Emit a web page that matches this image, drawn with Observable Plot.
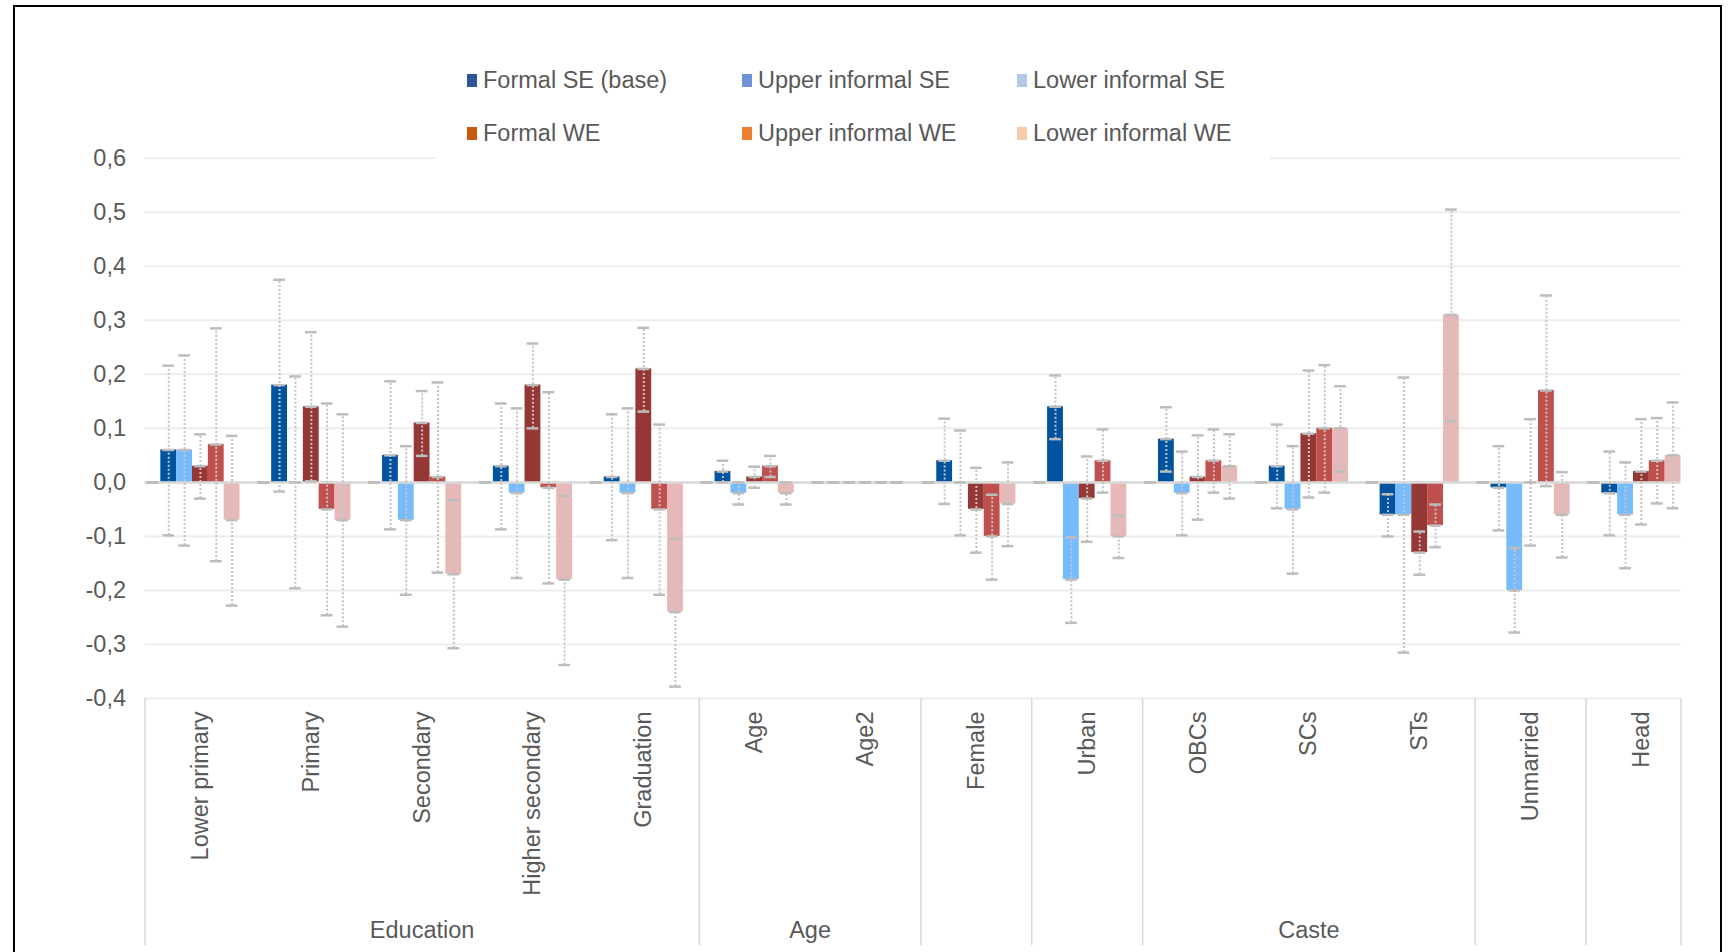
<!DOCTYPE html>
<html>
<head>
<meta charset="utf-8">
<script src="https://cdn.jsdelivr.net/npm/d3@7"></script>
<script src="https://cdn.jsdelivr.net/npm/@observablehq/plot@0.6"></script>
<style>
html, body { margin: 0; padding: 0; background: #fff; overflow: hidden; }
#wrap { position: relative; width: 1729px; height: 952px; font-family: "Liberation Sans", Arial, sans-serif; }
#chart { position: absolute; left: 0; top: 0; }
#legend { position: absolute; left: 436px; top: 40px; width: 834px; height: 121px; background: #fff; }
.item { position: absolute; height: 30px; display: flex; align-items: center; font-size: 23.5px; color: #595959; white-space: nowrap; }
.sw { width: 10px; height: 13px; margin-right: 6px; flex: none; }
#frame { position: absolute; left: 13px; top: 5px; width: 1705px; height: 1000px; border: 2px solid #000; pointer-events: none; }
</style>
</head>
<body>
<div id="wrap">
  <div id="chart"></div>
  <div id="legend"></div>
  <div id="frame"></div>
</div>
<script>
// ---------- data ----------
const categories = ["Lower primary", "Primary", "Secondary", "Higher secondary", "Graduation",
  "Age", "Age2", "Female", "Urban", "OBCs", "SCs", "STs", "Unmarried", "Head"];
const groupLabels = ["Education", "Age", "", "", "Caste", "", ""];
const groupSizes = [5, 2, 1, 1, 3, 1, 1];

const seriesNames = ["Formal SE (base)", "Upper informal SE", "Lower informal SE",
  "Formal WE", "Upper informal WE", "Lower informal WE"];
const legendColors = ["#2F5597", "#6F93D6", "#B4C7E7", "#C55A11", "#ED7D31", "#F8CBAD"];
const barColors = ["#2F5597", "#00539F", "#75BBFD", "#953735", "#C0504D", "#E6B9B8"];

const yTicks = [-0.4, -0.3, -0.2, -0.1, 0, 0.1, 0.2, 0.3, 0.4, 0.5, 0.6];

// Formal SE (base)
const formalSE    = [0, 0, 0, 0, 0, 0, 0, 0, 0, 0, 0, 0, 0, 0];
const formalSELo  = [0, 0, 0, 0, 0, 0, 0, 0, 0, 0, 0, 0, 0, 0];
const formalSEHi  = [0, 0, 0, 0, 0, 0, 0, 0, 0, 0, 0, 0, 0, 0];
// Upper informal SE
const upperSE     = [0.06, 0.18, 0.05, 0.03, 0.01, 0.02, 0, 0.04, 0.14, 0.08, 0.03, -0.06, -0.01, -0.02];
const upperSELo   = [-0.098, -0.017, -0.087, -0.087, -0.107, 0, 0, -0.04, 0.08, 0.02, -0.048, -0.1, -0.089, -0.098];
const upperSEHi   = [0.216, 0.375, 0.187, 0.146, 0.126, 0.04, 0, 0.118, 0.198, 0.139, 0.107, -0.022, 0.067, 0.057];
// Lower informal SE
const lowerSE     = [0.06, 0, -0.07, -0.02, -0.02, -0.02, 0, 0, -0.18, -0.02, -0.05, -0.06, -0.2, -0.06];
const lowerSELo   = [-0.117, -0.196, -0.208, -0.177, -0.177, -0.041, 0, -0.098, -0.26, -0.098, -0.169, -0.315, -0.278, -0.159];
const lowerSEHi   = [0.235, 0.196, 0.067, 0.137, 0.137, 0, 0, 0.096, -0.102, 0.057, 0.067, 0.194, -0.122, 0.037];
// Formal WE
const formalWE    = [0.03, 0.14, 0.11, 0.18, 0.21, 0.01, 0, -0.05, -0.03, 0.01, 0.09, -0.13, 0, 0.02];
const formalWELo  = [-0.03, 0.002, 0.049, 0.1, 0.131, -0.01, 0, -0.13, -0.11, -0.069, -0.028, -0.171, -0.117, -0.078];
const formalWEHi  = [0.089, 0.278, 0.169, 0.257, 0.286, 0.029, 0, 0.027, 0.048, 0.087, 0.207, -0.091, 0.117, 0.117];
// Upper informal WE
const upperWE     = [0.07, -0.05, 0.01, -0.01, -0.05, 0.03, 0, -0.1, 0.04, 0.04, 0.1, -0.08, 0.17, 0.04];
const upperWELo   = [-0.146, -0.246, -0.167, -0.187, -0.208, 0.01, 0, -0.18, -0.019, -0.019, -0.019, -0.12, -0.007, -0.039];
const upperWEHi   = [0.285, 0.146, 0.185, 0.167, 0.107, 0.049, 0, -0.023, 0.098, 0.098, 0.217, -0.041, 0.346, 0.119];
// Lower informal WE
const lowerWE     = [-0.07, -0.07, -0.17, -0.18, -0.24, -0.02, 0, -0.04, -0.1, 0.03, 0.1, 0.31, -0.06, 0.05];
const lowerWELo   = [-0.228, -0.267, -0.307, -0.338, -0.378, -0.041, 0, -0.118, -0.14, -0.03, 0.02, 0.113, -0.139, -0.048];
const lowerWEHi   = [0.086, 0.126, -0.033, -0.025, -0.104, 0, 0, 0.037, -0.061, 0.089, 0.178, 0.505, 0.019, 0.148];

const seriesValues = [formalSE, upperSE, lowerSE, formalWE, upperWE, lowerWE];
const seriesLo = [formalSELo, upperSELo, lowerSELo, formalWELo, upperWELo, lowerWELo];
const seriesHi = [formalSEHi, upperSEHi, lowerSEHi, formalWEHi, upperWEHi, lowerWEHi];

// ---------- layout helpers ----------
const slotsPerCategory = 7;             // six series + one empty spacer slot
const xMax = categories.length * slotsPerCategory - 1; // plot edge clips the last spacer
const capHalf = 0.37;                    // half cap width in slot units

const rows = [];
seriesNames.forEach((s, si) => {
  categories.forEach((c, ci) => {
    rows.push({category: c, series: s, slot: ci * slotsPerCategory + si,
      value: seriesValues[si][ci], lo: seriesLo[si][ci], hi: seriesHi[si][ci]});
  });
});
const caps = rows.flatMap(d => [d.lo, d.value, d.hi].map(y => ({slot: d.slot, y})));

const boundaries = [];
const groupItems = [];
let start = 0;
boundaries.push(0);
groupSizes.forEach((n, gi) => {
  const end = start + n;
  boundaries.push(Math.min(end * slotsPerCategory, xMax));
  if (groupLabels[gi]) groupItems.push({label: groupLabels[gi], mid: (start + end) / 2 * slotsPerCategory});
  start = end;
});

const fmt = d => d.toFixed(1).replace(".", ",");

const chart = Plot.plot({
  width: 1729,
  height: 952,
  marginLeft: 144.5,
  marginRight: 48.5,
  marginTop: 157.7,
  marginBottom: 254,
  x: {domain: [0, xMax], axis: null},
  y: {domain: [-0.4, 0.6], axis: null},
  color: {domain: seriesNames, range: barColors},
  style: {fontFamily: "'Liberation Sans', Arial, sans-serif", fontSize: "23.5px", color: "#595959", background: "transparent", overflow: "visible"},
  marks: [
    Plot.ruleY(yTicks, {stroke: "#EDEDED", strokeWidth: 2}),
    Plot.rectY(rows.filter(d => d.value !== 0), {x1: "slot", x2: d => d.slot + 1, y: "value", fill: "series"}),
    Plot.ruleY([0], {stroke: "#D9D9D9", strokeWidth: 2.5}),
    Plot.ruleX(rows.filter(d => d.hi !== d.lo), {x: d => d.slot + 0.5, y1: "lo", y2: "hi",
      stroke: "#C4C4C4", strokeWidth: 2, strokeDasharray: "2 2"}),
    Plot.ruleY(caps, {y: "y", x1: d => d.slot + 0.5 - capHalf, x2: d => d.slot + 0.5 + capHalf,
      stroke: "#BDBDBD", strokeWidth: 2.5}),
    Plot.text(yTicks, {x: () => 0, y: d => d, text: fmt, textAnchor: "end", dx: -19, fill: "#595959"}),
    Plot.text(categories, {x: (d, i) => i * slotsPerCategory + 3.5, y: () => -0.4, rotate: -90,
      textAnchor: "end", dy: 13, text: d => d, fill: "#595959"}),
    Plot.ruleX(boundaries, {x: d => d, y1: () => -0.4, y2: () => -0.4, insetBottom: -247,
      stroke: "#D9D9D9", strokeWidth: 1.5}),
    Plot.text(groupItems, {x: "mid", y: () => -0.4, dy: 232, text: "label", fill: "#595959"})
  ]
});
document.getElementById("chart").appendChild(chart);

// ---------- legend ----------
const legend = document.getElementById("legend");
seriesNames.forEach((s, i) => {
  const row = Math.floor(i / 3), col = i % 3;
  const item = document.createElement("div");
  item.className = "item";
  item.style.left = (31 + col * 275) + "px";
  item.style.top = (25 + row * 53) + "px";
  const sw = document.createElement("span");
  sw.className = "sw";
  sw.style.background = legendColors[i];
  const tx = document.createElement("span");
  tx.textContent = s;
  item.appendChild(sw);
  item.appendChild(tx);
  legend.appendChild(item);
});
</script>
</body>
</html>
